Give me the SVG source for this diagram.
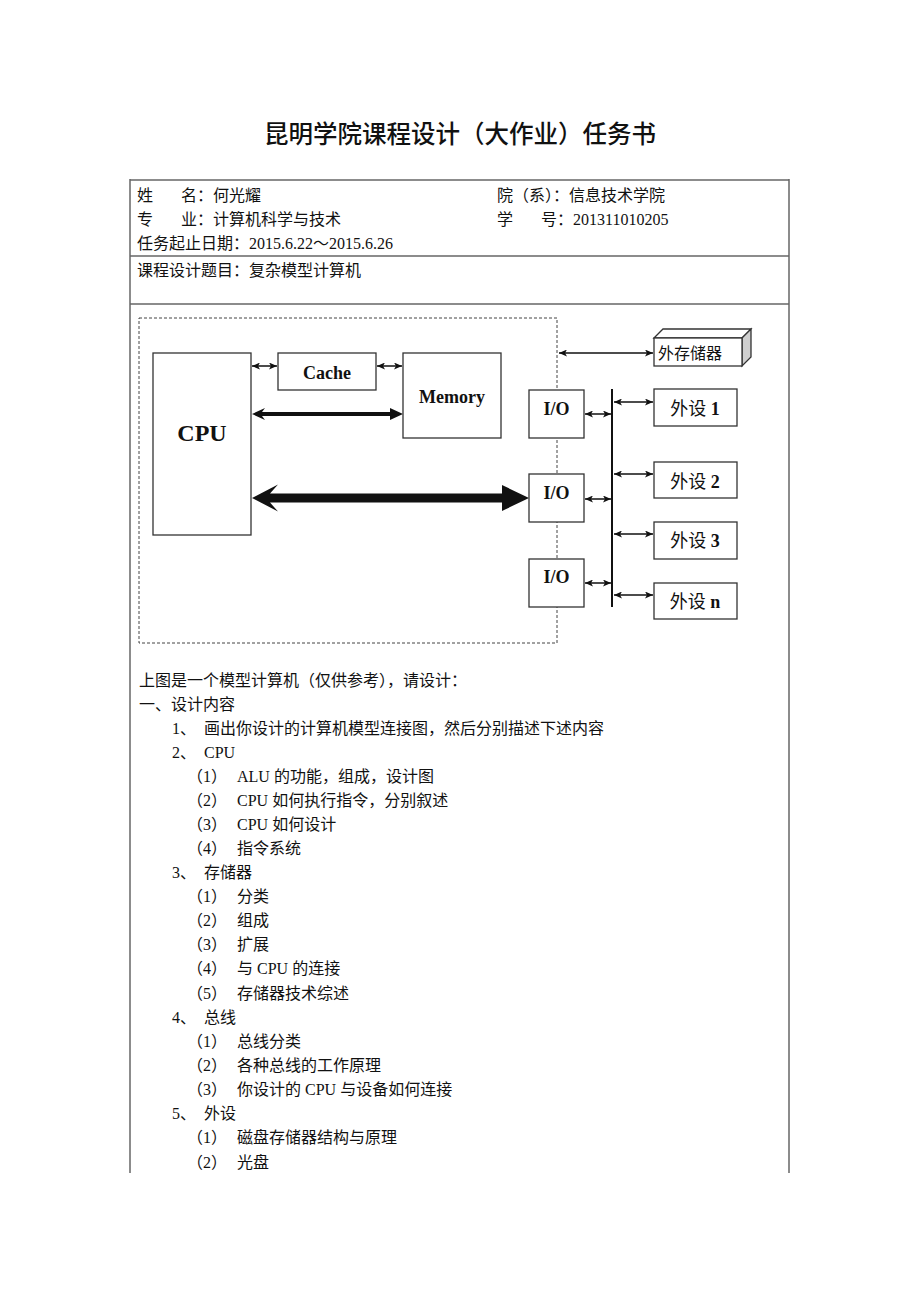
<svg xmlns="http://www.w3.org/2000/svg" width="920" height="1302" viewBox="0 0 920 1302">
<style>
.t{font-family:"Liberation Serif","Noto Sans CJK SC",serif;font-size:16px;fill:#111}
.title{font-family:"Noto Sans CJK SC",sans-serif;font-size:24.5px;font-weight:500;fill:#111}
.tbl{stroke:#666;stroke-width:1.5;fill:none}
.box{fill:#fff;stroke:#333;stroke-width:1.3}
.lb{font-family:"Liberation Serif","Noto Sans CJK SC",serif;font-weight:bold;fill:#111}
.lc{font-family:"Liberation Serif","Noto Sans CJK SC",serif;fill:#111}
.ln{stroke:#111;stroke-width:1.5;fill:none}
.b{font-weight:bold}
</style>
<defs>
<marker id="ah" viewBox="0 0 8 7" refX="8" refY="3.5" markerUnits="userSpaceOnUse" markerWidth="8" markerHeight="7" orient="auto-start-reverse">
<path d="M0,0 L8,3.5 L0,7 L2,3.5 z" fill="#111"/>
</marker>
</defs>
<rect width="920" height="1302" fill="#fff"/>
<text class="title" x="460" y="143" text-anchor="middle">昆明学院课程设计（大作业）任务书</text>
<g id="table">
<line class="tbl" x1="130" y1="180" x2="789" y2="180"/>
<line class="tbl" x1="130" y1="256" x2="789" y2="256"/>
<line class="tbl" x1="130" y1="304" x2="789" y2="304"/>
<line class="tbl" x1="130" y1="179" x2="130" y2="1173"/>
<line class="tbl" x1="789" y1="179" x2="789" y2="1173"/>
</g>
<g id="header">
<text class="t" x="137" y="201">姓</text>
<text class="t" x="181" y="201">名：何光耀</text>
<text class="t" x="497" y="201">院（系）：信息技术学院</text>
<text class="t" x="137" y="225">专</text>
<text class="t" x="181" y="225">业：计算机科学与技术</text>
<text class="t" x="497" y="225">学</text>
<text class="t" x="541" y="225">号：201311010205</text>
<text class="t" x="137" y="249">任务起止日期：2015.6.22～2015.6.26</text>
<text class="t" x="137" y="276">课程设计题目：复杂模型计算机</text>
</g>
<g id="boundary">
<rect x="139" y="318" width="418" height="325" fill="none" stroke="#444" stroke-width="1" stroke-dasharray="3,2"/>
</g>
<g id="connectors">
<line class="ln" x1="252" y1="366" x2="277" y2="366" marker-start="url(#ah)" marker-end="url(#ah)"/>
<line class="ln" x1="377" y1="366" x2="402" y2="366" marker-start="url(#ah)" marker-end="url(#ah)"/>
<polygon points="252,414 265,408 262,412 390,412 390,408 403,414 390,420 390,416 262,416 265,420" fill="#111"/>
<polygon points="252,498 278,484.5 270,493.5 502,493.5 502,485 529,498 502,511 502,502.5 270,502.5 278,511.5" fill="#111"/>
<line class="ln" x1="559" y1="353" x2="653" y2="353" marker-start="url(#ah)" marker-end="url(#ah)"/>
<line x1="612" y1="389" x2="612" y2="607" stroke="#111" stroke-width="2"/>
<line class="ln" x1="585" y1="414" x2="611" y2="414" marker-start="url(#ah)" marker-end="url(#ah)"/>
<line class="ln" x1="585" y1="499" x2="611" y2="499" marker-start="url(#ah)" marker-end="url(#ah)"/>
<line class="ln" x1="585" y1="583" x2="611" y2="583" marker-start="url(#ah)" marker-end="url(#ah)"/>
<line class="ln" x1="614" y1="402" x2="653" y2="402" marker-start="url(#ah)" marker-end="url(#ah)"/>
<line class="ln" x1="614" y1="474" x2="653" y2="474" marker-start="url(#ah)" marker-end="url(#ah)"/>
<line class="ln" x1="614" y1="534" x2="653" y2="534" marker-start="url(#ah)" marker-end="url(#ah)"/>
<line class="ln" x1="614" y1="595" x2="653" y2="595" marker-start="url(#ah)" marker-end="url(#ah)"/>
</g>
<g id="cpu">
<rect class="box" x="153" y="353" width="98" height="182"/>
<text class="lb" x="202" y="441" font-size="24" text-anchor="middle">CPU</text>
</g>
<g id="cache">
<rect class="box" x="278" y="353" width="98" height="37"/>
<text class="lb" x="327" y="379" font-size="18" text-anchor="middle">Cache</text>
</g>
<g id="memory">
<rect class="box" x="403" y="353" width="98" height="85"/>
<text class="lb" x="452" y="403" font-size="18" text-anchor="middle">Memory</text>
</g>
<g id="io1">
<rect class="box" x="529" y="390" width="55" height="48"/>
<text class="lb" x="556.5" y="415" font-size="18" text-anchor="middle">I/O</text>
</g>
<g id="io2">
<rect class="box" x="529" y="474" width="55" height="48"/>
<text class="lb" x="556.5" y="499" font-size="18" text-anchor="middle">I/O</text>
</g>
<g id="io3">
<rect class="box" x="529" y="559" width="55" height="48"/>
<text class="lb" x="556.5" y="583" font-size="18" text-anchor="middle">I/O</text>
</g>
<g id="extstorage">
<polygon points="654,338 663,329 751,329 742,338" fill="#fff" stroke="#333" stroke-width="1.3"/>
<polygon points="742,338 751,329 751,357 742,366" fill="#cfcfcf" stroke="#333" stroke-width="1.3"/>
<rect class="box" x="654" y="338" width="88" height="28"/>
<text class="lc" x="658" y="359" font-size="16">外存储器</text>
</g>
<g id="dev1">
<rect class="box" x="654" y="389" width="83" height="37"/>
<text class="lc" x="695" y="415" font-size="18" text-anchor="middle">外设 <tspan class="b">1</tspan></text>
</g>
<g id="dev2">
<rect class="box" x="654" y="462" width="83" height="36"/>
<text class="lc" x="695" y="488" font-size="18" text-anchor="middle">外设 <tspan class="b">2</tspan></text>
</g>
<g id="dev3">
<rect class="box" x="654" y="522" width="83" height="37"/>
<text class="lc" x="695" y="547" font-size="18" text-anchor="middle">外设 <tspan class="b">3</tspan></text>
</g>
<g id="devn">
<rect class="box" x="654" y="583" width="83" height="36"/>
<text class="lc" x="695" y="608" font-size="18" text-anchor="middle">外设 <tspan class="b">n</tspan></text>
</g>
<g id="body">
<text class="t" x="139" y="686">上图是一个模型计算机（仅供参考），请设计：</text>
<text class="t" x="139" y="710">一、设计内容</text>
<text class="t" x="172" y="734">1、</text><text class="t" x="204" y="734">画出你设计的计算机模型连接图，然后分别描述下述内容</text>
<text class="t" x="172" y="758">2、</text><text class="t" x="204" y="758">CPU</text>
<text class="t" x="187" y="782">（1）</text><text class="t" x="237" y="782">ALU 的功能，组成，设计图</text>
<text class="t" x="187" y="806">（2）</text><text class="t" x="237" y="806">CPU 如何执行指令，分别叙述</text>
<text class="t" x="187" y="830">（3）</text><text class="t" x="237" y="830">CPU 如何设计</text>
<text class="t" x="187" y="854">（4）</text><text class="t" x="237" y="854">指令系统</text>
<text class="t" x="172" y="878">3、</text><text class="t" x="204" y="878">存储器</text>
<text class="t" x="187" y="902">（1）</text><text class="t" x="237" y="902">分类</text>
<text class="t" x="187" y="926">（2）</text><text class="t" x="237" y="926">组成</text>
<text class="t" x="187" y="950">（3）</text><text class="t" x="237" y="950">扩展</text>
<text class="t" x="187" y="974">（4）</text><text class="t" x="237" y="974">与 CPU 的连接</text>
<text class="t" x="187" y="999">（5）</text><text class="t" x="237" y="999">存储器技术综述</text>
<text class="t" x="172" y="1023">4、</text><text class="t" x="204" y="1023">总线</text>
<text class="t" x="187" y="1047">（1）</text><text class="t" x="237" y="1047">总线分类</text>
<text class="t" x="187" y="1071">（2）</text><text class="t" x="237" y="1071">各种总线的工作原理</text>
<text class="t" x="187" y="1095">（3）</text><text class="t" x="237" y="1095">你设计的 CPU 与设备如何连接</text>
<text class="t" x="172" y="1119">5、</text><text class="t" x="204" y="1119">外设</text>
<text class="t" x="187" y="1143">（1）</text><text class="t" x="237" y="1143">磁盘存储器结构与原理</text>
<text class="t" x="187" y="1168">（2）</text><text class="t" x="237" y="1168">光盘</text>
</g>
</svg>
